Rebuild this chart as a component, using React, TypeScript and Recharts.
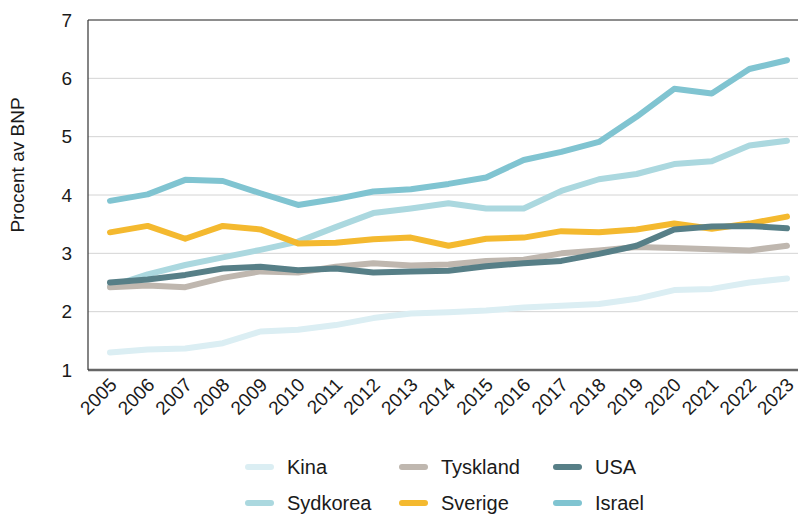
import React from "react";
import {
  LineChart,
  Line,
  XAxis,
  YAxis,
  CartesianGrid,
  ReferenceLine,
  Legend,
  Label,
} from "recharts";

const years = [
  "2005", "2006", "2007", "2008", "2009", "2010", "2011", "2012", "2013", "2014",
  "2015", "2016", "2017", "2018", "2019", "2020", "2021", "2022", "2023",
];

const kina = [1.3, 1.35, 1.37, 1.46, 1.66, 1.69, 1.77, 1.89, 1.97, 1.99, 2.02, 2.07, 2.1, 2.13, 2.22, 2.37, 2.39, 2.5, 2.57];
const sydkorea = [2.43, 2.64, 2.8, 2.93, 3.06, 3.2, 3.45, 3.69, 3.77, 3.86, 3.77, 3.77, 4.07, 4.27, 4.36, 4.53, 4.58, 4.85, 4.93];
const tyskland = [2.42, 2.45, 2.42, 2.58, 2.69, 2.67, 2.77, 2.83, 2.79, 2.81, 2.87, 2.89, 3.0, 3.05, 3.11, 3.09, 3.07, 3.05, 3.13];
const sverige = [3.36, 3.47, 3.25, 3.47, 3.41, 3.17, 3.18, 3.24, 3.27, 3.13, 3.25, 3.27, 3.38, 3.36, 3.41, 3.51, 3.42, 3.51, 3.63];
const usa = [2.5, 2.55, 2.63, 2.74, 2.77, 2.71, 2.74, 2.67, 2.69, 2.7, 2.78, 2.83, 2.87, 2.99, 3.13, 3.41, 3.46, 3.47, 3.43];
const israel = [3.9, 4.01, 4.26, 4.24, 4.03, 3.83, 3.93, 4.06, 4.1, 4.19, 4.3, 4.6, 4.74, 4.91, 5.34, 5.82, 5.74, 6.16, 6.31];

const yTicks = [1, 2, 3, 4, 5, 6, 7];

// ritordning = legendens kolumnordning
const serier = [
  { key: "Kina", values: kina, color: "#dbeef3" },
  { key: "Sydkorea", values: sydkorea, color: "#abd8df" },
  { key: "Tyskland", values: tyskland, color: "#bfb7af" },
  { key: "Sverige", values: sverige, color: "#f4b92f" },
  { key: "USA", values: usa, color: "#577f87" },
  { key: "Israel", values: israel, color: "#80c4d1" },
];

// legendens radordning
const legendOrder = ["Kina", "Tyskland", "USA", "Sydkorea", "Sverige", "Israel"];

const data = years.map((year, i) => {
  const row: Record<string, string | number> = { year };
  serier.forEach((s) => {
    row[s.key] = s.values[i];
  });
  return row;
});

const FONT = '"Liberation Sans", Arial, Helvetica, sans-serif';

function YearTick({ x, y, payload }: any) {
  const tx = x + 8;
  const ty = y + 16;
  return (
    <text
      x={tx}
      y={ty}
      transform={`rotate(-45 ${tx} ${ty})`}
      textAnchor="end"
      fontSize={19}
      fontFamily={FONT}
      fill="#1a1a1a"
    >
      {payload.value}
    </text>
  );
}

function YLabel({ viewBox }: any) {
  const cx = viewBox.x + 17;
  const cy = viewBox.y + viewBox.height / 2 - 30;
  return (
    <text
      x={cx}
      y={cy}
      transform={`rotate(-90 ${cx} ${cy})`}
      textAnchor="middle"
      dominantBaseline="central"
      fontSize={19}
      fontFamily={FONT}
      fill="#1a1a1a"
    >
      Procent av BNP
    </text>
  );
}

function LegendContent() {
  return (
    <div style={{ display: "flex", flexWrap: "wrap", width: 462, fontFamily: FONT }}>
      {legendOrder.map((name) => {
        const s = serier.find((d) => d.key === name)!;
        return (
          <div
            key={name}
            style={{ width: 154, height: 36, display: "flex", alignItems: "center" }}
          >
            <div
              style={{
                width: 29,
                height: 6,
                borderRadius: 3,
                background: s.color,
                marginRight: 13,
              }}
            />
            <span style={{ fontSize: 20, color: "#1a1a1a" }}>{name}</span>
          </div>
        );
      })}
    </div>
  );
}

export default function App() {
  return (
    <div style={{ position: "absolute", left: 0, top: 0, width: 798, height: 515, background: "#fff" }}>
      <LineChart
        width={798}
        height={515}
        data={data}
        margin={{ top: 20, right: 0, left: 0, bottom: 0 }}
      >
        <CartesianGrid vertical={false} stroke="#d4d4d4" strokeWidth={1} />
        <XAxis
          dataKey="year"
          height={145}
          interval={0}
          padding={{ left: 22, right: 11 }}
          tickLine={false}
          tickSize={0}
          tickMargin={0}
          axisLine={{ stroke: "#666", strokeWidth: 2.5 }}
          tick={<YearTick />}
        />
        <YAxis
          width={88}
          domain={[1, 7]}
          ticks={yTicks}
          interval={0}
          tickLine={false}
          tickSize={6}
          tickMargin={10}
          axisLine={{ stroke: "#333", strokeWidth: 1.2 }}
          tick={{ fontSize: 19, fill: "#1a1a1a", fontFamily: FONT }}
        >
          <Label content={<YLabel />} />
        </YAxis>
        <ReferenceLine y={7} stroke="#333" strokeWidth={1.2} />
        {serier.map((s) => (
          <Line
            key={s.key}
            type="linear"
            dataKey={s.key}
            stroke={s.color}
            strokeWidth={6}
            strokeLinecap="round"
            strokeLinejoin="round"
            dot={false}
            activeDot={false}
            isAnimationActive={false}
          />
        ))}
        <Legend
          layout="horizontal"
          verticalAlign="middle"
          align="center"
          content={<LegendContent />}
          wrapperStyle={{ top: 449, left: 245, width: 462, height: 72 }}
        />
      </LineChart>
    </div>
  );
}
